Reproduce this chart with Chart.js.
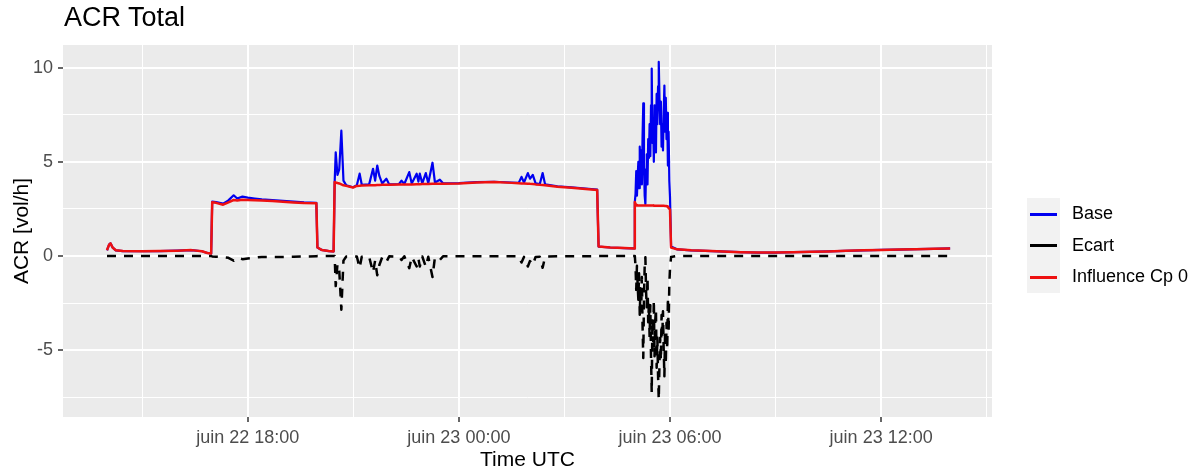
<!DOCTYPE html>
<html>
<head>
<meta charset="utf-8">
<script src="https://cdn.jsdelivr.net/npm/chart.js@4/dist/chart.umd.min.js"></script>
<style>
  html, body { margin: 0; padding: 0; background: #ffffff; }
  #wrap { position: relative; width: 1198px; height: 468px; font-family: "Liberation Sans", Arial, sans-serif; }
  #c { position: absolute; left: 0; top: 0; }
  #title { position: absolute; left: 64px; top: 2px; font-size: 27px; color: #000; white-space: nowrap; }
  #legend { position: absolute; left: 1027px; top: 198px; }
  .row { position: relative; height: 31.7px; }
  .key { position: absolute; left: 0; top: 0; width: 33px; height: 31.7px; background: #F2F2F2; }
  .key i { position: absolute; left: 3px; top: 14.5px; width: 27px; height: 3px; }
  .lab { position: absolute; left: 45px; top: 5px; font-size: 18px; color: #000; white-space: nowrap; line-height: 21px; }
</style>
</head>
<body>
<div id="wrap">
  <canvas id="c" width="1198" height="468"></canvas>
  <div id="title">ACR Total</div>
  <div id="legend"></div>
</div>
<script>
// ---- Data (hours since juin 22 00:00 UTC) ----
const times = [
  14.00, 14.06, 14.10, 14.16, 14.25, 14.45, 15.00, 15.50, 16.00, 16.40, 16.70, 16.85, 16.96,
  16.99, 17.10, 17.30, 17.45, 17.60, 17.70, 17.85, 18.00, 18.20, 18.40, 18.70, 19.00, 19.30, 19.60, 19.95,
  19.98, 20.10, 20.30, 20.44,
  20.47, 20.50, 20.55, 20.60, 20.66, 20.72, 20.80, 20.99, 21.10, 21.18, 21.24, 21.45, 21.56, 21.62, 21.68, 21.74,
  21.82, 21.94, 22.02, 22.30, 22.37, 22.45, 22.59, 22.66, 22.80, 22.85, 22.89, 22.96, 23.06, 23.13, 23.25, 23.32,
  23.46, 23.55, 24.00, 24.50, 25.00, 25.50, 25.70, 25.78, 25.85, 25.96, 26.02, 26.10, 26.18, 26.30, 26.38, 26.45,
  26.80, 27.20, 27.60, 27.93,
  27.97, 28.30, 28.70, 28.98,
  29.00, 29.02, 29.04, 29.06, 29.08, 29.10, 29.12, 29.14, 29.16, 29.18, 29.20, 29.22, 29.24, 29.26, 29.28, 29.30,
  29.32, 29.34, 29.36, 29.38, 29.40, 29.42, 29.44, 29.46, 29.48, 29.50, 29.52, 29.54, 29.56, 29.58, 29.60, 29.62,
  29.64, 29.66, 29.68, 29.70, 29.72, 29.74, 29.76, 29.78, 29.80, 29.82, 29.84, 29.86, 29.88, 29.90, 29.92, 29.94,
  29.96, 29.98, 30.00, 30.03,
  30.20, 30.60, 31.00, 32.00, 32.50, 33.00, 33.50, 34.00, 34.50, 35.00, 35.50, 36.00, 36.50, 37.00, 37.50, 37.96
];
const base = [
  0.30, 0.60, 0.67, 0.45, 0.30, 0.26, 0.25, 0.26, 0.28, 0.31, 0.25, 0.16, 0.13,
  2.88, 2.86, 2.78, 2.95, 3.22, 3.05, 3.15, 3.10, 3.05, 3.00, 2.97, 2.93, 2.88, 2.84, 2.82,
  0.45, 0.32, 0.26, 0.24,
  3.92, 5.50, 4.30, 4.60, 6.65, 4.00, 3.75, 3.65, 3.75, 4.37, 3.78, 3.80, 4.63, 4.00, 4.80, 4.25,
  3.85, 4.10, 3.80, 3.82, 4.00, 3.82, 4.45, 3.85, 4.37, 3.95, 4.37, 3.85, 4.40, 3.86, 4.95, 3.90,
  4.05, 3.86, 3.87, 3.92, 3.94, 3.90, 3.88, 4.20, 3.90, 4.40, 4.10, 4.30, 3.85, 3.82, 4.40, 3.80,
  3.70, 3.64, 3.58, 3.52,
  0.50, 0.45, 0.42, 0.40,
  2.87, 3.30, 4.50, 3.20, 4.20, 5.00, 3.60, 5.80, 4.40, 5.60, 3.80, 6.40, 8.10, 4.90, 3.20, 2.75,
  4.60, 5.40, 3.80, 6.20, 5.20, 7.00, 5.30, 8.00, 9.95, 6.00, 7.20, 5.00, 8.00, 6.10, 5.50, 8.60,
  7.00, 9.00, 10.30, 8.40, 7.00, 8.20, 5.80, 7.00, 5.60, 7.60, 9.05, 6.60, 8.40, 6.20, 7.60, 4.80,
  6.60, 4.00, 3.10, 0.50,
  0.35, 0.30, 0.27, 0.20, 0.18, 0.18, 0.20, 0.22, 0.24, 0.27, 0.30, 0.32, 0.34, 0.36, 0.38, 0.40
];
const influence = [
  0.30, 0.60, 0.67, 0.45, 0.30, 0.26, 0.25, 0.26, 0.28, 0.31, 0.25, 0.16, 0.13,
  2.85, 2.82, 2.72, 2.85, 2.97, 2.95, 2.98, 2.97, 2.96, 2.95, 2.92, 2.88, 2.84, 2.81, 2.80,
  0.45, 0.32, 0.26, 0.24,
  3.92, 3.90, 3.87, 3.85, 3.80, 3.75, 3.72, 3.63, 3.72, 3.73, 3.74, 3.75, 3.76, 3.76, 3.77, 3.77,
  3.78, 3.78, 3.78, 3.79, 3.79, 3.80, 3.80, 3.80, 3.81, 3.81, 3.81, 3.82, 3.82, 3.82, 3.83, 3.83,
  3.84, 3.84, 3.85, 3.90, 3.92, 3.88, 3.86, 3.85, 3.85, 3.84, 3.83, 3.82, 3.80, 3.78, 3.77, 3.76,
  3.68, 3.62, 3.56, 3.50,
  0.50, 0.45, 0.42, 0.40,
  2.87, 2.75, 2.70, 2.68, 2.68, 2.68, 2.68, 2.68, 2.68, 2.68, 2.68, 2.68, 2.68, 2.68, 2.68, 2.68,
  2.68, 2.68, 2.68, 2.68, 2.68, 2.68, 2.68, 2.68, 2.68, 2.68, 2.68, 2.67, 2.67, 2.67, 2.67, 2.67,
  2.67, 2.67, 2.67, 2.67, 2.66, 2.66, 2.66, 2.66, 2.66, 2.66, 2.66, 2.65, 2.65, 2.65, 2.63, 2.60,
  2.55, 2.50, 2.45, 0.45,
  0.35, 0.30, 0.27, 0.20, 0.18, 0.18, 0.20, 0.22, 0.24, 0.27, 0.30, 0.32, 0.34, 0.36, 0.38, 0.40
];
const ecart = [
  0, 0, 0, 0, 0, 0, 0, 0, 0, 0, 0, 0, 0,
  -0.03, -0.04, -0.06, -0.10, -0.25, -0.10, -0.17, -0.13, -0.09, -0.05, -0.05, -0.05, -0.04, -0.03, -0.02,
  0, 0, 0, 0,
  0, -1.60, -0.43, -0.75, -2.85, -0.25, -0.03, -0.02, -0.03, -0.64, -0.04, -0.05, -0.87, -0.24, -1.03, -0.48,
  -0.07, -0.32, -0.02, -0.03, -0.21, -0.02, -0.65, -0.05, -0.56, -0.14, -0.56, -0.03, -0.58, -0.04, -1.12, -0.07,
  -0.21, -0.02, -0.02, -0.02, -0.02, -0.02, -0.02, -0.35, -0.05, -0.56, -0.27, -0.48, -0.05, -0.04, -0.63, -0.04,
  -0.02, -0.02, -0.02, -0.02,
  0, 0, 0, 0,
  0, -0.55, -1.80, -0.52, -1.52, -2.32, -0.92, -3.12, -1.72, -2.92, -1.12, -3.72, -5.42, -2.22, -0.52, -0.07,
  -1.92, -2.72, -1.12, -3.52, -2.52, -4.32, -2.62, -5.32, -7.27, -3.32, -4.52, -2.33, -5.33, -3.43, -2.83, -5.93,
  -4.33, -6.33, -7.63, -5.73, -4.34, -5.54, -3.14, -4.34, -2.94, -4.94, -6.39, -3.95, -5.75, -3.55, -4.97, -2.20,
  -4.05, -1.50, -0.65, -0.05,
  0, 0, 0, 0, 0, 0, 0, 0, 0, 0, 0, 0, 0, 0, 0, 0
];
const seriesNames = ["Base", "Ecart", "Influence Cp 0"];
const seriesColors = ["#0000F0", "#000000", "#EE1111"];
const xTickHours = [15, 18, 21, 24, 27, 30, 33, 36, 39];   // major every 6 h
const yTickValues = [-7.5, -5, -2.5, 0, 2.5, 5, 7.5, 10];  // major every 5

// ---- Build ----
function pts(vals) { return times.map((t, i) => ({ x: t, y: vals[i] })); }
function xLabel(h) {
  const day = 22 + Math.floor(h / 24);
  const hh = String(h % 24).padStart(2, "0");
  return "juin " + day + " " + hh + ":00";
}
const isMajorX = v => v % 6 === 0;
const isMajorY = v => v % 5 === 0;

const panelBg = {
  id: "panelBg",
  beforeDraw(chart) {
    const { ctx, chartArea: a } = chart;
    ctx.save();
    ctx.fillStyle = "#EBEBEB";
    ctx.fillRect(a.left, a.top, a.right - a.left, a.bottom - a.top);
    ctx.restore();
  }
};

const tickFont = { family: "'Liberation Sans', Arial, sans-serif", size: 18 };
const xTitleFont = { family: "'Liberation Sans', Arial, sans-serif", size: 21, lineHeight: 0.7 };
const yTitleFont = { family: "'Liberation Sans', Arial, sans-serif", size: 21, lineHeight: 1.0 };

new Chart(document.getElementById("c"), {
  type: "line",
  data: {
    datasets: [
      { label: seriesNames[2], data: pts(influence), borderColor: seriesColors[2], borderWidth: 2.5, order: 0 },
      { label: seriesNames[1], data: pts(ecart), borderColor: seriesColors[1], borderWidth: 2.5, borderDash: [9, 8], order: 1 },
      { label: seriesNames[0], data: pts(base), borderColor: seriesColors[0], borderWidth: 2.2, order: 2 }
    ]
  },
  options: {
    responsive: false,
    animation: false,
    devicePixelRatio: 1,
    layout: { padding: { left: 0, right: 206, top: 45, bottom: 0 } },
    elements: {
      point: { radius: 0, hoverRadius: 0 },
      line: { tension: 0, borderJoinStyle: "round", borderCapStyle: "butt", fill: false }
    },
    plugins: { legend: { display: false }, tooltip: { enabled: false }, title: { display: false } },
    scales: {
      x: {
        type: "linear",
        min: 12.75,
        max: 39.15,
        afterBuildTicks(s) { s.ticks = xTickHours.map(v => ({ value: v })); },
        afterFit(s) { s.height = 51; },
        border: { display: false },
        grid: {
          color: "#FFFFFF",
          lineWidth: c => (c.tick && isMajorX(c.tick.value)) ? 2 : 1,
          drawTicks: true,
          tickLength: 5,
          tickWidth: 1.5,
          tickColor: c => (c.tick && isMajorX(c.tick.value)) ? "#333333" : "rgba(0,0,0,0)"
        },
        ticks: {
          autoSkip: false,
          maxRotation: 0,
          padding: 5,
          color: "#4D4D4D",
          font: tickFont,
          callback: v => isMajorX(v) ? xLabel(v) : ""
        },
        title: { display: true, text: "Time UTC", color: "#000000", font: xTitleFont, padding: { top: 0, bottom: 0 } }
      },
      y: {
        type: "linear",
        min: -8.55,
        max: 11.2,
        afterBuildTicks(s) { s.ticks = yTickValues.map(v => ({ value: v })); },
        afterFit(s) { s.width = 63; },
        border: { display: false },
        grid: {
          color: "#FFFFFF",
          lineWidth: c => (c.tick && isMajorY(c.tick.value)) ? 2 : 1,
          drawTicks: true,
          tickLength: 5,
          tickWidth: 1.5,
          tickColor: c => (c.tick && isMajorY(c.tick.value)) ? "#333333" : "rgba(0,0,0,0)"
        },
        ticks: {
          autoSkip: false,
          padding: 5,
          color: "#4D4D4D",
          font: tickFont,
          callback: v => isMajorY(v) ? String(v) : ""
        },
        title: { display: true, text: "ACR [vol/h]", color: "#000000", font: yTitleFont, padding: { top: 12, bottom: 0 } }
      }
    }
  },
  plugins: [panelBg]
});

// ---- HTML legend ----
const legendEl = document.getElementById("legend");
[0, 1, 2].forEach(i => {
  const row = document.createElement("div");
  row.className = "row";
  row.innerHTML = '<div class="key"><i style="background:' + seriesColors[i] + '"></i></div>' +
                  '<div class="lab">' + seriesNames[i] + '</div>';
  legendEl.appendChild(row);
});
</script>
</body>
</html>
